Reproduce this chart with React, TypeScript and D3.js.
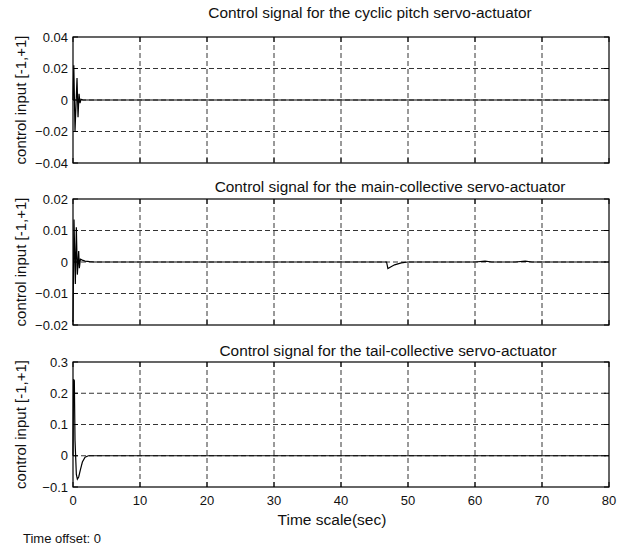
import React from "react";
import * as d3 from "d3";

// Data (time in seconds, control input)
const cyclicT = [0, 0.12, 0.3, 0.6, 0.75, 0.9, 1.05, 1.2, 1.5, 80];
const cyclicV = [0, 0.022, -0.02, 0.014, -0.011, 0.004, -0.002, 0.0005, 0, 0];

const mainT = [0, 0.15, 0.35, 0.5, 0.65, 0.85, 0.95, 1.1, 1.4, 1.8, 2.5, 3.2, 46.8, 47.0, 47.4, 48.0, 49.0, 50.0, 60, 61.5, 62.5, 66, 67.5, 68.5, 80];
const mainV = [-0.019, 0.0135, -0.007, 0.011, -0.004, 0.0035, -0.002, 0.0009, 0.0006, 0.0003, 0.0001, 0, 0, -0.0021, -0.0016, -0.0009, -0.0003, 0, 0, 0.0003, 0, 0, 0.0003, 0, 0];

const tailT = [0, 0.08, 0.2, 0.3, 0.5, 0.65, 0.85, 1.1, 1.4, 1.8, 2.3, 80];
const tailV = [0, 0.245, 0.24, 0.05, -0.06, -0.075, -0.068, -0.045, -0.02, -0.005, 0, 0];

const xTicks = [0, 10, 20, 30, 40, 50, 60, 70, 80];
const cyclicTicks = [-0.04, -0.02, 0, 0.02, 0.04];
const mainTicks = [-0.02, -0.01, 0, 0.01, 0.02];
const tailTicks = [-0.1, 0, 0.1, 0.2, 0.3];

const titles = [
  "Control signal for the cyclic pitch servo-actuator",
  "Control signal for the main-collective servo-actuator",
  "Control signal for the tail-collective servo-actuator",
];

const FONT = "'Liberation Sans', Arial, Helvetica, sans-serif";
const L = 73, R = 609;

const fmt = (v: number) => {
  const s = v === 0 ? "0" : String(v);
  return s.replace("-", "\u2212");
};

function Panel({ top, bottom, t, v, ticks, title, titleX, titleY, showX }: any) {
  const x = d3.scaleLinear().domain([0, 80]).range([L, R]);
  const y = d3.scaleLinear().domain([ticks[0], ticks[ticks.length - 1]]).range([bottom, top]);
  const pts: [number, number][] = t.map((tt: number, i: number) => [tt, v[i]]);
  const line = d3.line<[number, number]>().x((d) => x(d[0])).y((d) => y(d[1]));
  return (
    <g>
      {xTicks.slice(1, -1).map((tk) => (
        <line key={"gx" + tk} x1={x(tk)} x2={x(tk)} y1={top} y2={bottom} stroke="#000" strokeWidth={0.8} strokeDasharray="5,3" />
      ))}
      {ticks.slice(1, -1).map((tk: number) => (
        <line key={"gy" + tk} x1={L} x2={R} y1={y(tk)} y2={y(tk)} stroke="#000" strokeWidth={0.8} strokeDasharray="5,3" />
      ))}
      {xTicks.map((tk) => (
        <g key={"tx" + tk}>
          <line x1={x(tk)} x2={x(tk)} y1={bottom} y2={bottom - 5} stroke="#000" />
          <line x1={x(tk)} x2={x(tk)} y1={top} y2={top + 5} stroke="#000" />
        </g>
      ))}
      {ticks.map((tk: number) => (
        <g key={"ty" + tk}>
          <line x1={L} x2={L + 5} y1={y(tk)} y2={y(tk)} stroke="#000" />
          <line x1={R} x2={R - 5} y1={y(tk)} y2={y(tk)} stroke="#000" />
          <text x={68} y={y(tk)} dy="0.35em" textAnchor="end" fontSize={13} fontFamily={FONT} fill="#111">{fmt(tk)}</text>
        </g>
      ))}
      <path d={line(pts) || ""} fill="none" stroke="#000" strokeWidth={1.2} />
      <rect x={L} y={top} width={R - L} height={bottom - top} fill="none" stroke="#000" strokeWidth={1.2} />
      <text x={titleX} y={titleY} textAnchor="middle" fontSize={15.4} fontFamily={FONT} fill="#111">{title}</text>
      <text transform={`translate(26,${(top + bottom) / 2}) rotate(-90)`} textAnchor="middle" fontSize={15} fontFamily={FONT} fill="#111">control input [-1,+1]</text>
      {showX && xTicks.map((tk) => (
        <text key={"lx" + tk} x={x(tk)} y={505} textAnchor="middle" fontSize={13} fontFamily={FONT} fill="#111">{tk}</text>
      ))}
    </g>
  );
}

export default function App() {
  return (
    <svg width={627} height={549} style={{ position: "absolute", left: 0, top: 0, background: "#fff" }}>
      <rect width={627} height={549} fill="#fff" />
      <Panel top={37} bottom={163} t={cyclicT} v={cyclicV} ticks={cyclicTicks} title={titles[0]} titleX={370} titleY={18} />
      <Panel top={199} bottom={325} t={mainT} v={mainV} ticks={mainTicks} title={titles[1]} titleX={390} titleY={192} />
      <Panel top={362} bottom={487} t={tailT} v={tailV} ticks={tailTicks} title={titles[2]} titleX={388} titleY={356} showX />
      <text x={332} y={525} textAnchor="middle" fontSize={15.5} fontFamily={FONT} fill="#111">Time scale(sec)</text>
      <text x={23} y={543} fontSize={13} fontFamily={FONT} fill="#111">Time offset: 0</text>
    </svg>
  );
}
